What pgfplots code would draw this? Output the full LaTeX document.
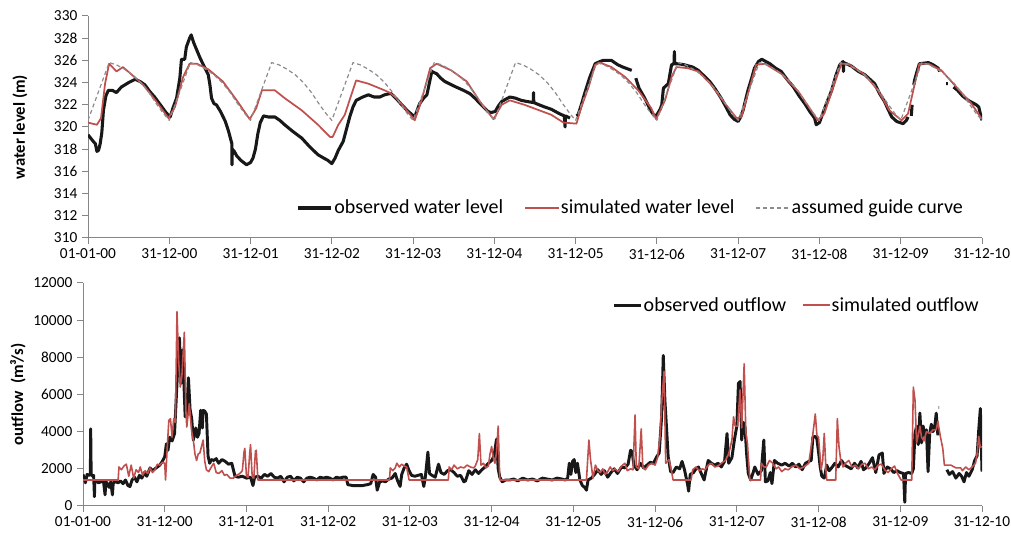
\documentclass[border=0pt]{standalone}
\usepackage{fontspec}
\setmainfont{Carlito}
\usepackage{pgfplots}
\pgfplotsset{compat=1.18}

\definecolor{simred}{RGB}{192,80,77}
\definecolor{obsblk}{RGB}{24,24,24}
\definecolor{guidegray}{RGB}{140,140,140}
\definecolor{axgray}{RGB}{134,134,134}

\pgfplotsset{
  base/.style={
    scale only axis,
    xmin=0, xmax=11,
    axis lines*=left,
    axis line style={axgray, line width=0.75pt},
    tick style={axgray, line width=0.75pt},
    tick align=outside,
    major tick length=4.5pt,
    xtick={0,1,...,11},
    xticklabels={01-01-00,31-12-00,31-12-01,31-12-02,31-12-03,31-12-04,31-12-05,31-12-06,31-12-07,31-12-08,31-12-09,31-12-10},
    ticklabel style={font=\fontsize{11.5}{13}\selectfont, text=black},
    /pgf/number format/assume math mode=true,
    /pgf/number format/1000 sep={},
    scaled y ticks=false,
    unbounded coords=jump,
    legend cell align=left,
    legend style={draw=none, fill=none, font=\fontsize{15}{18}\selectfont,
      legend columns=-1, inner sep=0pt, nodes={inner sep=1pt}},
    legend image code/.code={\draw[#1] (0pt,0pt) -- (25pt,0pt);},
    every axis plot/.append style={line join=round},
  }
}

\begin{document}
\begin{tikzpicture}
\useasboundingbox (0,0) rectangle (758.25pt,401.25pt);

% water level
\begin{axis}[base,
  at={(66pt,222.75pt)}, anchor=south west,
  width=670.5pt, height=166.5pt,
  ymin=310, ymax=330, ytick={310,312,...,330},
  ylabel={\textbf{water level (m)}},
  ylabel style={at={(axis description cs:-0.076,0.5)}, anchor=center, font=\fontsize{12.5}{15}\selectfont},
  legend style={at={(0.233,0.135)}, anchor=west,
    /tikz/every even column/.append style={column sep=15pt}},
]
\addplot[obsblk, line width=2.3pt] coordinates {
(0,319.3) (0.065,318.7) (0.09,318.5) (0.11,317.8) (0.13,317.9) (0.15,318.5) (0.17,319.5) (0.19,321.5)
(0.22,322.8) (0.25,323.3) (0.30,323.3) (0.35,323.1) (0.41,323.6) (0.50,324.0) (0.58,324.3) (0.64,324.1)
(0.70,323.8) (0.76,323.2) (0.82,322.7) (0.90,321.9) (0.96,321.3) (1.01,320.9) (1.05,321.8) (1.09,322.6)
(1.13,324.4) (1.15,326.1) (1.19,326.1) (1.21,327.2) (1.25,328.0) (1.27,328.3) (1.30,327.6) (1.34,326.9)
(1.38,326.2) (1.42,325.6) (1.46,325.0) (1.48,324.7) (1.50,323.8) (1.52,322.6) (1.55,322.1) (1.58,322.0)
(1.63,321.4) (1.69,320.5) (1.73,319.6) (1.77,318.5) (1.772,316.6) (1.776,318.0) (1.80,317.8) (1.83,317.4)
(1.88,317.0) (1.95,316.6) (2.00,316.8) (2.03,317.2) (2.06,318.0) (2.09,319.4) (2.12,320.4) (2.16,321.0)
(2.22,320.9) (2.30,320.9) (2.36,320.6) (2.42,320.2) (2.52,319.6) (2.63,319.0) (2.73,318.2) (2.83,317.5)
(2.90,317.2) (2.95,317.0) (3.00,316.7) (3.04,317.2) (3.08,317.9) (3.14,318.7) (3.18,319.8) (3.22,320.9)
(3.26,321.8) (3.30,322.4) (3.38,322.7) (3.45,322.9) (3.52,322.7) (3.59,322.7) (3.65,322.9) (3.71,323.0)
(3.73,323.0) (3.80,322.5) (3.86,322.0) (3.94,321.4) (4.02,320.9) (4.05,321.5) (4.08,322.1) (4.13,322.6)
(4.17,322.9) (4.23,325.0) (4.29,324.8) (4.34,324.4) (4.39,324.1) (4.50,323.7) (4.62,323.3) (4.70,323.0)
(4.76,322.6) (4.84,322.0) (4.92,321.4) (4.96,321.3) (5.01,321.4) (5.05,321.9) (5.09,322.3) (5.19,322.7)
(5.26,322.6) (5.33,322.4) (5.40,322.3) (5.48,322.2) (5.482,323.1) (5.485,322.2) (5.55,322.0) (5.62,321.8)
(5.70,321.6) (5.80,321.2) (5.86,321.0) (5.87,320.0) (5.875,321.0) (5.93,320.8) (5.935,nan)
(6.01,321.0) (6.03,321.1) (6.07,322.0) (6.11,323.0) (6.17,324.4) (6.24,325.7) (6.30,325.9) (6.34,326.0)
(6.44,326.0) (6.52,325.6) (6.58,325.4) (6.69,325.1) (6.70,nan)
(6.74,324.4) (6.78,323.5) (6.85,322.6) (6.93,321.4) (6.97,321.0) (7.00,321.1) (7.04,321.6) (7.06,322.0)
(7.08,323.5) (7.14,323.9) (7.18,325.6) (7.21,325.7) (7.215,326.8) (7.22,325.7) (7.26,325.7) (7.34,325.6)
(7.44,325.4) (7.51,325.1) (7.58,324.6) (7.65,324.1) (7.72,323.4) (7.79,322.6) (7.85,321.8) (7.90,321.1)
(7.95,320.7) (8.00,320.5) (8.03,320.9) (8.06,321.5) (8.12,323.3) (8.17,324.5) (8.20,325.3) (8.25,325.9)
(8.29,326.1) (8.34,325.9) (8.39,325.7) (8.46,325.3) (8.53,325.0) (8.60,324.3) (8.68,323.6) (8.75,322.8)
(8.82,322.1) (8.88,321.4) (8.94,320.8) (8.96,320.2) (9.00,320.4) (9.02,320.8) (9.08,322.0) (9.15,323.3)
(9.20,324.6) (9.25,325.6) (9.29,325.9) (9.295,325.0) (9.30,325.8) (9.39,325.5) (9.48,325.0) (9.56,324.7)
(9.62,324.3) (9.68,323.9) (9.74,323.0) (9.80,322.3) (9.85,321.5) (9.89,320.9) (9.95,320.5) (10.03,320.3)
(10.07,320.6) (10.09,320.9) (10.10,nan) (10.13,321.0) (10.14,322.0) (10.145,nan)
(10.16,323.8) (10.17,324.2) (10.20,325.0) (10.23,325.7) (10.34,325.8) (10.40,325.6) (10.46,325.3) (10.48,325.0) (10.49,nan)
(10.56,323.9) (10.58,323.9) (10.59,nan)
(10.65,323.6) (10.70,323.3) (10.76,322.8) (10.83,322.4) (10.88,322.2) (10.93,322.0) (10.96,321.8) (10.98,321.2) (11.00,320.6)
};
\addlegendentry{observed water level}
\addplot[simred, line width=1.3pt] coordinates {
(0,320.4) (0.11,320.2) (0.16,320.8) (0.21,323.9) (0.26,325.7) (0.30,325.4) (0.35,325.0) (0.43,325.4)
(0.54,324.7) (0.68,323.8) (0.84,322.3) (0.99,320.8) (1.07,321.8) (1.17,324.5) (1.25,325.7) (1.34,325.7)
(1.48,325.2) (1.66,324.1) (1.83,322.4) (1.99,320.7) (2.07,321.7) (2.14,323.3) (2.20,323.3) (2.30,323.3)
(2.42,322.6) (2.63,321.5) (2.83,320.2) (2.98,319.1) (3.01,319.1) (3.08,320.2) (3.16,321.1) (3.24,322.9)
(3.30,324.2) (3.45,323.9) (3.65,323.3) (3.71,323.1) (3.78,322.7) (3.90,321.7) (4.02,320.6) (4.10,322.3)
(4.21,325.3) (4.29,325.7) (4.47,325.1) (4.66,324.1) (4.84,322.1) (4.99,320.7) (5.09,322.0) (5.19,322.4)
(5.37,322.0) (5.70,321.1) (5.85,320.4) (6.01,320.3) (6.07,321.8) (6.16,323.6) (6.24,325.6) (6.30,325.8)
(6.44,325.4) (6.61,324.5) (6.77,323.3) (6.93,321.7) (6.99,320.7) (7.10,322.4) (7.18,324.5) (7.24,325.4)
(7.38,325.3) (7.51,325.0) (7.67,323.8) (7.84,322.1) (7.98,320.8) (8.04,320.9) (8.12,323.0) (8.22,325.6)
(8.33,325.7) (8.53,324.8) (8.74,323.2) (8.98,320.6) (9.06,321.2) (9.17,323.6) (9.27,325.7) (9.35,325.7)
(9.56,324.7) (9.72,323.3) (9.86,321.5) (10.01,320.6) (10.09,321.2) (10.17,323.8) (10.23,325.7) (10.34,325.7)
(10.50,325.1) (10.66,323.8) (10.87,322.1) (11.00,320.7)
};
\addlegendentry{simulated water level}
\addplot[guidegray, line width=0.9pt, dash pattern=on 3pt off 2.2pt] coordinates {
(0,320.6) (0.26,325.8) (0.35,325.6) (0.45,325.2) (0.55,324.7) (0.65,324.0) (0.75,323.1) (0.85,322.0) (0.93,321.2)
(1,320.6) (1.26,325.8) (1.35,325.6) (1.45,325.2) (1.55,324.7) (1.65,324.0) (1.75,323.1) (1.85,322.0) (1.93,321.2)
(2,320.6) (2.26,325.8) (2.35,325.6) (2.45,325.2) (2.55,324.7) (2.65,324.0) (2.75,323.1) (2.85,322.0) (2.93,321.2)
(3,320.6) (3.26,325.8) (3.35,325.6) (3.45,325.2) (3.55,324.7) (3.65,324.0) (3.75,323.1) (3.85,322.0) (3.93,321.2)
(4,320.6) (4.26,325.8) (4.35,325.6) (4.45,325.2) (4.55,324.7) (4.65,324.0) (4.75,323.1) (4.85,322.0) (4.93,321.2)
(5,320.6) (5.26,325.8) (5.35,325.6) (5.45,325.2) (5.55,324.7) (5.65,324.0) (5.75,323.1) (5.85,322.0) (5.93,321.2)
(6,320.6) (6.26,325.8) (6.35,325.6) (6.45,325.2) (6.55,324.7) (6.65,324.0) (6.75,323.1) (6.85,322.0) (6.93,321.2)
(7,320.6) (7.26,325.8) (7.35,325.6) (7.45,325.2) (7.55,324.7) (7.65,324.0) (7.75,323.1) (7.85,322.0) (7.93,321.2)
(8,320.6) (8.26,325.8) (8.35,325.6) (8.45,325.2) (8.55,324.7) (8.65,324.0) (8.75,323.1) (8.85,322.0) (8.93,321.2)
(9,320.6) (9.26,325.8) (9.35,325.6) (9.45,325.2) (9.55,324.7) (9.65,324.0) (9.75,323.1) (9.85,322.0) (9.93,321.2)
(10,320.6) (10.26,325.8) (10.35,325.6) (10.45,325.2) (10.55,324.7) (10.65,324.0) (10.75,323.1) (10.85,322.0) (10.93,321.2)
(11,320.6)
};
\addlegendentry{assumed guide curve}
\end{axis}

% outflow
\begin{axis}[base,
  at={(62.25pt,21.75pt)}, anchor=south west,
  width=674.25pt, height=167.25pt,
  ymin=0, ymax=12000, ytick={0,2000,...,12000},
  ylabel={\textbf{outflow~~(m³/s)}},
  ylabel style={at={(axis description cs:-0.0723,0.5)}, anchor=center, font=\fontsize{12.5}{15}\selectfont},
  legend image code/.code={\draw[#1] (0pt,0pt) -- (20pt,0pt);},
  legend style={at={(0.589,0.901)}, anchor=west,
    /tikz/every even column/.append style={column sep=11pt}},
]
\addplot[obsblk, line width=2.2pt] coordinates {
(0.00,1700) (0.03,1250) (0.05,1700) (0.08,1650) (0.09,1700) (0.094,4150) (0.10,1700) (0.12,1600)
(0.13,1650) (0.14,500) (0.145,1300) (0.17,1350) (0.19,1250) (0.22,1300) (0.25,1350) (0.27,600)
(0.28,1300) (0.30,1200) (0.32,1000) (0.34,1300) (0.36,600) (0.37,1250) (0.40,1300) (0.43,1250)
(0.46,1350) (0.49,1200) (0.52,1400) (0.55,1100) (0.575,1050) (0.60,1400) (0.63,1550) (0.66,1300)
(0.69,1650) (0.72,1500) (0.75,1800) (0.78,1600) (0.82,2050) (0.85,1900) (0.88,2000) (0.91,2100)
(0.94,2200) (0.97,2400) (1.00,2650) (1.02,3350) (1.04,3000) (1.06,3700) (1.09,3500) (1.12,3900)
(1.14,5700) (1.16,7500) (1.18,9050) (1.20,6600) (1.22,8400) (1.235,6600) (1.25,4800) (1.27,5000)
(1.29,6900) (1.31,5200) (1.33,4700) (1.35,3550) (1.38,4200) (1.40,3700) (1.42,3900) (1.44,5150)
(1.46,4200) (1.47,5150) (1.49,5100) (1.51,4950) (1.53,2700) (1.55,2300) (1.57,2500) (1.60,2450)
(1.63,2550) (1.66,2300) (1.70,2500) (1.74,2400) (1.78,2250) (1.82,2300) (1.86,1600) (1.90,1550)
(1.95,1600) (2.00,1500) (2.05,1550) (2.08,1100) (2.10,1550) (2.14,1600) (2.18,1500) (2.22,1700)
(2.26,1600) (2.30,1750) (2.34,1550) (2.38,1500) (2.42,1600) (2.46,1300) (2.50,1550) (2.54,1600)
(2.58,1350) (2.62,1550) (2.66,1500) (2.70,1300) (2.74,1500) (2.78,1550) (2.82,1500) (2.86,1400)
(2.90,1550) (2.94,1500) (2.98,1550) (3.02,1500) (3.06,1400) (3.10,1550) (3.14,1500) (3.18,1550)
(3.22,1550) (3.24,1150) (3.30,1100) (3.36,1100) (3.42,1100) (3.48,1150) (3.52,1200) (3.55,1700)
(3.58,1550) (3.60,850) (3.63,1300) (3.67,1350) (3.70,1300) (3.74,1450) (3.78,1500) (3.82,1750)
(3.85,1350) (3.88,1050) (3.90,1700) (3.93,2050) (3.96,2250) (3.99,1900) (4.02,1650) (4.06,1600)
(4.10,1650) (4.14,1700) (4.17,1050) (4.19,1600) (4.22,2900) (4.24,1750) (4.27,1650) (4.31,1550)
(4.35,2250) (4.38,1800) (4.42,1700) (4.46,1900) (4.50,1950) (4.54,1800) (4.58,1600) (4.62,1650)
(4.66,1300) (4.68,1350) (4.72,1900) (4.76,1700) (4.80,1950) (4.84,1750) (4.88,1950) (4.92,2100)
(4.96,2300) (5.00,2450) (5.03,2700) (5.06,3600) (5.08,2000) (5.10,1550) (5.13,1300) (5.17,1400)
(5.22,1400) (5.27,1450) (5.32,1350) (5.38,1500) (5.44,1400) (5.50,1450) (5.56,1350) (5.62,1500)
(5.68,1450) (5.74,1400) (5.80,1500) (5.86,1450) (5.90,1400) (5.93,1500) (5.95,2300) (5.97,1700)
(5.99,2400) (6.01,2500) (6.03,1800) (6.05,2300) (6.08,1400) (6.11,1100) (6.14,1000) (6.16,850)
(6.18,1400) (6.22,1500) (6.26,1700) (6.30,1950) (6.34,1700) (6.38,1900) (6.42,1550) (6.46,1800)
(6.50,2000) (6.54,1750) (6.59,2100) (6.63,2050) (6.67,2250) (6.70,3000) (6.72,2900) (6.74,2200)
(6.78,1950) (6.82,2300) (6.86,2050) (6.90,2200) (6.94,2350) (6.98,2300) (7.02,2650) (7.05,2850)
(7.08,4800) (7.10,8100) (7.12,5700) (7.14,4200) (7.16,2650) (7.19,1850) (7.22,1800) (7.26,2100)
(7.30,2000) (7.33,2400) (7.36,1950) (7.40,1100) (7.41,800) (7.43,1700) (7.47,1800) (7.50,2000)
(7.53,2100) (7.56,1800) (7.60,1400) (7.63,2050) (7.65,2450) (7.69,2300) (7.73,2200) (7.77,2300)
(7.81,2100) (7.85,2400) (7.88,3900) (7.90,2300) (7.94,2600) (7.97,3550) (8.00,4300) (8.02,6600)
(8.04,6700) (8.06,3550) (8.08,4500) (8.10,4250) (8.12,2800) (8.14,1750) (8.17,1400) (8.20,1800)
(8.22,2100) (8.26,1700) (8.30,1900) (8.33,3550) (8.35,1300) (8.38,1350) (8.41,1800) (8.43,1200)
(8.46,2450) (8.50,2300) (8.55,2200) (8.59,2300) (8.64,2150) (8.68,2300) (8.72,2100) (8.76,2250)
(8.80,1950) (8.84,2300) (8.88,2400) (8.91,2450) (8.93,3700) (8.96,3750) (8.98,3600) (9.00,2900)
(9.02,2100) (9.04,1600) (9.07,1500) (9.10,2200) (9.13,1900) (9.16,2050) (9.20,2300) (9.24,2100)
(9.28,2450) (9.32,2200) (9.36,2100) (9.40,2000) (9.44,2300) (9.48,2050) (9.52,2400) (9.55,1950)
(9.58,2050) (9.62,2300) (9.66,2600) (9.70,1800) (9.74,2750) (9.78,2850) (9.80,1750) (9.84,2100)
(9.88,2000) (9.92,1800) (9.96,1900) (10.00,1800) (10.04,1750) (10.055,200) (10.065,1750) (10.10,1800)
(10.14,1750) (10.16,2000) (10.18,3900) (10.20,4300) (10.22,3300) (10.24,5000) (10.26,3400) (10.28,4300)
(10.30,3800) (10.32,4100) (10.34,1850) (10.36,3900) (10.38,4400) (10.40,4000) (10.42,4200) (10.44,5000)
(10.46,3800) (10.465,nan) (10.47,5300) (10.475,5300) (10.48,nan)
(10.57,1950) (10.60,1700) (10.64,1850) (10.68,1500) (10.72,1750) (10.75,1600) (10.78,1300) (10.81,1800)
(10.84,1600) (10.88,1950) (10.91,2450) (10.94,2700) (10.96,4100) (10.98,5250) (11.00,1850)
};
\addlegendentry{observed outflow}
\addplot[simred, line width=1.2pt] coordinates {
(0.00,1400) (0.43,1400) (0.44,2100) (0.47,1950) (0.50,2150) (0.53,2250) (0.56,1600) (0.59,2200)
(0.62,1500) (0.65,1950) (0.68,1800) (0.70,2100) (0.73,1650) (0.76,1900) (0.79,1750) (0.82,2050)
(0.85,1800) (0.88,1950) (0.91,2250) (0.94,2200) (0.97,2350) (1.00,2300) (1.01,1400) (1.03,3100)
(1.05,4600) (1.07,4700) (1.09,3700) (1.11,4700) (1.13,4500) (1.15,10450) (1.17,7850) (1.19,6400)
(1.21,7000) (1.24,9350) (1.26,5000) (1.27,4250) (1.30,5500) (1.33,4000) (1.35,3550) (1.37,2800)
(1.39,2450) (1.41,2800) (1.43,2850) (1.45,3200) (1.47,3550) (1.49,2400) (1.51,1950) (1.54,1850)
(1.57,2100) (1.60,2300) (1.63,1800) (1.66,1750) (1.70,1900) (1.73,1650) (1.76,1700) (1.80,1500)
(1.84,1500) (1.88,1650) (1.92,1750) (1.95,1900) (1.97,2900) (1.98,3100) (2.00,1600) (2.02,1550)
(2.04,2850) (2.05,3300) (2.07,1600) (2.09,1500) (2.11,2950) (2.12,3000) (2.14,1400) (3.75,1400)
(3.76,2050) (3.79,1900) (3.82,2050) (3.84,2300) (3.87,2100) (3.90,2250) (3.93,2150) (3.96,2100)
(3.99,1400) (4.47,1400) (4.48,2100) (4.51,1950) (4.54,2200) (4.58,2000) (4.62,2100) (4.66,2050)
(4.70,2200) (4.74,2100) (4.78,2050) (4.80,2150) (4.83,2500) (4.85,3900) (4.87,2200) (4.90,2300)
(4.93,2050) (4.96,2150) (4.98,2800) (5.00,3200) (5.02,2600) (5.04,2300) (5.06,2900) (5.08,4300)
(5.10,1400) (6.16,1400) (6.19,3550) (6.21,2500) (6.24,1500) (6.27,2200) (6.30,1900) (6.33,1800)
(6.36,2000) (6.39,1700) (6.42,1850) (6.45,2100) (6.48,1900) (6.51,2000) (6.55,1850) (6.59,2150)
(6.63,2300) (6.66,1900) (6.70,2000) (6.73,1950) (6.755,4900) (6.77,2100) (6.80,2000) (6.83,4150)
(6.85,2100) (6.88,1950) (6.92,2200) (6.96,2300) (7.00,2200) (7.03,2600) (7.06,3700) (7.08,5500)
(7.11,7250) (7.13,2300) (7.17,2500) (7.20,1900) (7.22,1400) (7.44,1400) (7.46,1950) (7.50,2100)
(7.54,1900) (7.58,2000) (7.61,1950) (7.65,2200) (7.69,2300) (7.73,2100) (7.77,2150) (7.81,2300)
(7.86,2450) (7.90,2800) (7.94,3550) (7.96,4800) (7.98,4300) (8.01,4300) (8.04,6250) (8.06,4200)
(8.09,7650) (8.11,4000) (8.13,3350) (8.16,1400) (8.29,1400) (8.30,2300) (8.33,2100) (8.36,2100)
(8.40,2450) (8.44,2300) (8.48,2000) (8.51,2100) (8.55,1850) (8.59,2000) (8.63,1950) (8.67,2100)
(8.72,2200) (8.77,2000) (8.82,2100) (8.88,2300) (8.92,3500) (8.96,4950) (8.98,3800) (9.00,3700)
(9.03,1950) (9.05,2400) (9.07,3900) (9.09,2000) (9.10,1400) (9.21,1400) (9.23,4700) (9.25,3200)
(9.27,2500) (9.30,2100) (9.33,2300) (9.37,2450) (9.41,2100) (9.45,2200) (9.49,2000) (9.53,2250)
(9.57,2300) (9.61,2000) (9.65,2100) (9.69,1950) (9.73,2200) (9.77,2250) (9.81,1950) (9.85,1800)
(9.89,2000) (9.93,2150) (9.96,1800) (10.01,1400) (10.14,1400) (10.16,6400) (10.18,5700) (10.20,3400)
(10.22,3800) (10.24,4300) (10.26,3700) (10.29,3500) (10.32,4000) (10.36,3900) (10.40,4100) (10.44,4100)
(10.46,4550) (10.49,3750) (10.52,3100) (10.54,2200) (10.62,2200) (10.68,2050) (10.74,2050) (10.76,1900)
(10.80,2100) (10.84,1950) (10.88,2100) (10.92,2300) (10.94,2800) (10.96,3750) (10.98,3150) (11.00,3200)
};
\addlegendentry{simulated outflow}
\end{axis}
\end{tikzpicture}
\end{document}
